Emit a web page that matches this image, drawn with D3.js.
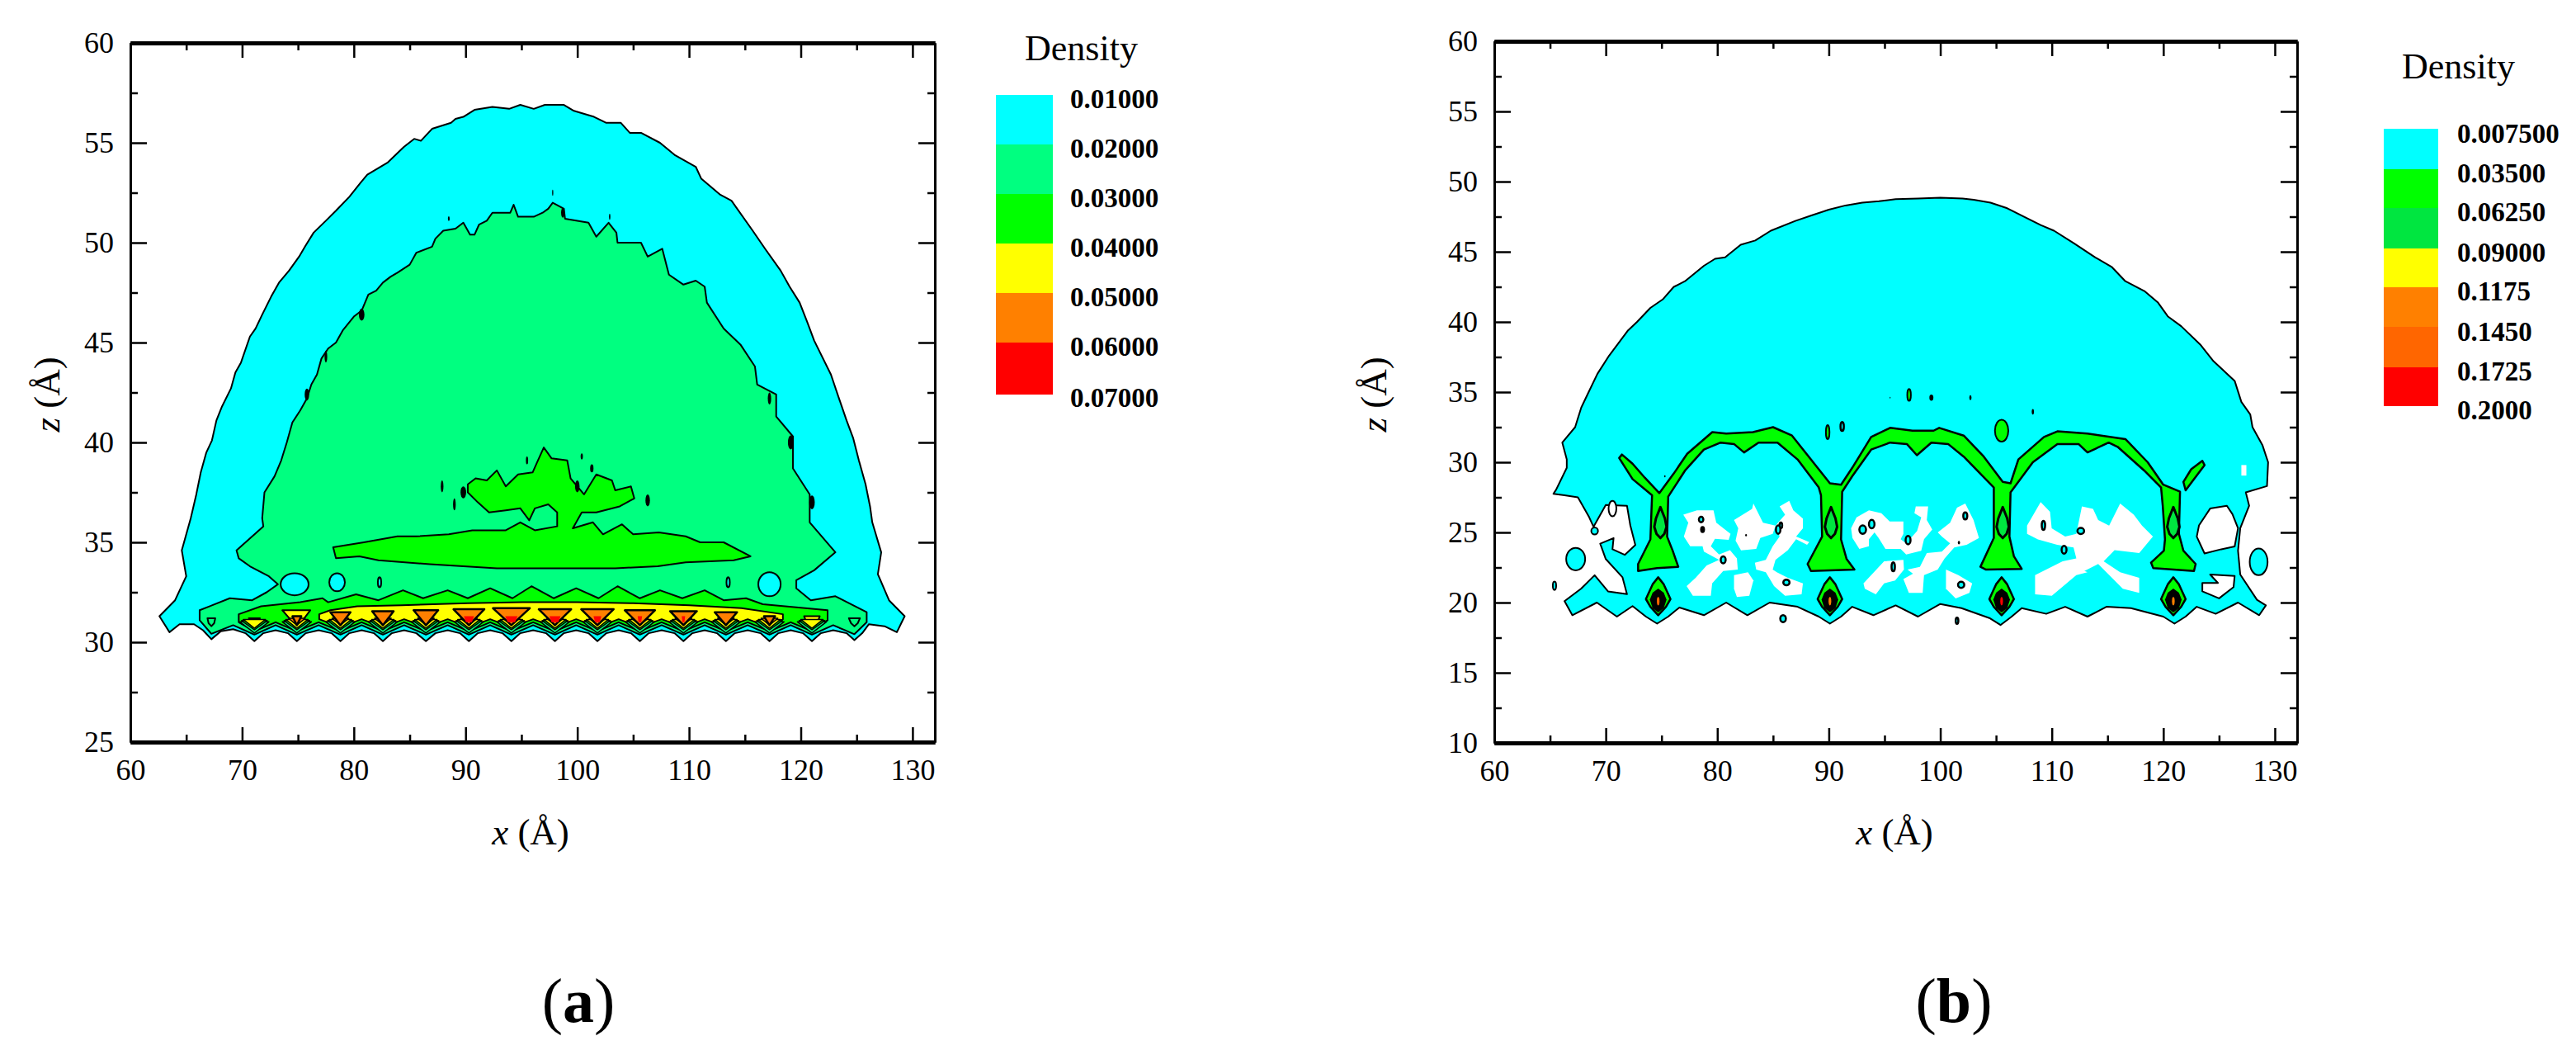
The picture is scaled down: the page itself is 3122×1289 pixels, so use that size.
<!DOCTYPE html>
<html>
<head>
<meta charset="utf-8">
<script src="https://cdn.jsdelivr.net/npm/d3@7"></script>
<style>
  html, body { margin: 0; background: #fff; }
  text { font-family: "Liberation Serif", "Times New Roman", serif; fill: #000; }
</style>
</head>
<body>
<svg width="3122" height="1289"></svg>
<script>
// tick values
var xMajor = [60, 70, 80, 90, 100, 110, 120, 130];
var xMinor = [65, 75, 85, 95, 105, 115, 125];
var zMajorA = [25, 30, 35, 40, 45, 50, 55, 60];
var zMinorA = [27.5, 32.5, 37.5, 42.5, 47.5, 52.5, 57.5];
var zMajorB = [10, 15, 20, 25, 30, 35, 40, 45, 50, 55, 60];
var zMinorB = [12.5, 17.5, 22.5, 27.5, 32.5, 37.5, 42.5, 47.5, 52.5, 57.5];

// legends
var legendA = ["0.01000", "0.02000", "0.03000", "0.04000", "0.05000", "0.06000", "0.07000"];
var legendColorsA = ["#00ffff", "#00ff80", "#00ff00", "#ffff00", "#ff8000", "#ff0000"];
var legendB = ["0.007500", "0.03500", "0.06250", "0.09000", "0.1175", "0.1450", "0.1725", "0.2000"];
var legendColorsB = ["#00ffff", "#00ff00", "#00e640", "#ffff00", "#ff8000", "#ff6600", "#ff0000"];

// panel a, contour outlines as [x, z]
var aCyan = [[62.6,31.3],[64,32.1],[65,33.3],[64.6,34.6],[65.4,36.2],[65.9,37.4],[66.3,38.5],[66.8,39.5],[67.3,40.1],[67.7,41.1],[68.2,41.8],[69,42.7],[69.4,43.5],[69.9,44],[70.7,45.3],[71.2,45.7],[71.8,46.4],[72.6,47.3],[73.3,48],[74.2,48.6],[75.1,49.3],[75.66,49.83],[76.4,50.5],[77.5,51.1],[78.4,51.6],[79.6,52.3],[80.6,53],[81.2,53.4],[83,54],[84.5,54.8],[85.4,55.2],[86,55.1],[87,55.7],[88.7,56],[89.1,56.2],[89.8,56.3],[90.8,56.65],[92.4,56.8],[93.9,56.7],[94.9,56.9],[96.1,56.7],[97.1,56.9],[98.8,56.9],[99.7,56.6],[101.5,56.3],[102.6,56],[103.9,56],[104.7,55.5],[105.7,55.5],[107.4,55],[108.7,54.4],[110.6,53.8],[111.1,53.2],[112.8,52.4],[113.8,52.1],[115.7,50.6],[116.8,49.7],[118.2,48.6],[119,47.8],[119.9,47],[120.6,46],[121.2,45.1],[122.7,43.4],[123.3,42.4],[124.1,41.1],[124.7,40.2],[125.2,39.1],[125.8,37.9],[126.2,36.8],[126.4,36],[127.2,34.5],[126.9,33.4],[127.9,32.1],[129.3,31.3],[128.6,30.5],[127.5,30.8],[126.1,30.9],[125.5,30.45],[124.8,30.1],[124.1,30.45],[122.9,30.6],[121.8,30.45],[121,30.05],[120.2,30.45],[119.1,30.6],[118,30.45],[117.2,30.05],[116.4,30.45],[115.25,30.6],[114.1,30.45],[113.3,30.05],[112.5,30.45],[111.4,30.6],[110.3,30.45],[109.5,30.05],[108.7,30.45],[107.55,30.6],[106.4,30.45],[105.6,30.05],[104.8,30.45],[103.7,30.6],[102.6,30.45],[101.8,30.05],[101,30.45],[99.9,30.6],[98.8,30.45],[98,30.05],[97.2,30.45],[96.05,30.6],[94.9,30.45],[94.1,30.05],[93.3,30.45],[92.2,30.6],[91.1,30.45],[90.3,30.05],[89.5,30.45],[88.4,30.6],[87.3,30.45],[86.45,30.05],[85.6,30.45],[84.5,30.6],[83.4,30.45],[82.6,30.05],[81.8,30.45],[80.7,30.6],[79.6,30.45],[78.8,30.05],[78,30.45],[76.85,30.6],[75.7,30.45],[74.9,30.05],[74.1,30.45],[73,30.6],[71.9,30.45],[71.1,30.05],[70.3,30.45],[69.2,30.65],[68.1,30.55],[67.25,30.15],[66.5,30.6],[65.7,30.9],[64.4,30.9],[63.5,30.5]];
var aLevel2 = [[66.2,31.1],[66.2,31.6],[68.9,32.2],[70.9,32.1],[72.2,32.5],[73.2,32.9],[72.4,33.3],[70.7,33.8],[69.7,34.2],[69.5,34.6],[71.9,35.8],[71.8,36.2],[72,37.5],[72.9,38.3],[73.5,39.1],[74,40],[74.5,41],[75.2,41.6],[75.8,42.2],[76.2,42.9],[76.7,43.4],[77.1,44.2],[77.7,44.7],[78.4,45],[79,45.6],[80,46.3],[80.7,46.6],[81.3,47.4],[82,47.6],[82.6,48],[83.3,48.3],[83.9,48.5],[85,48.9],[85.6,49.5],[87,49.8],[87.3,50.2],[88,50.6],[89.1,50.7],[89.8,51],[90.4,50.4],[90.8,50.4],[91.2,50.9],[91.9,51.1],[92.4,51.5],[94,51.5],[94.3,51.9],[94.7,51.3],[96.1,51.3],[96.9,51.5],[97.4,51.7],[97.8,52],[98.8,51.7],[98.9,51.2],[101,51],[101.7,50.3],[102.8,51],[103.5,50.5],[103.6,50],[105.7,50],[106.3,49.3],[107.6,49.7],[108.2,48.4],[109.5,47.9],[110.6,48.1],[111.4,47.8],[111.6,47],[113.1,45.7],[114.6,44.9],[115.9,43.8],[116.1,42.9],[117.8,42.4],[117.8,41.3],[119.3,40.3],[119.3,38.7],[120.8,37.4],[120.8,36],[123.1,34.5],[121.2,33.6],[119.6,33.1],[119.6,32.7],[120.9,32.1],[123.1,32.3],[125.9,31.5],[125.9,31],[124.8,30.4],[122.9,30.85],[121,30.38],[119.1,30.85],[117.2,30.38],[115.25,30.85],[113.3,30.38],[111.4,30.85],[109.5,30.38],[107.55,30.85],[105.6,30.38],[103.7,30.85],[101.8,30.38],[99.9,30.85],[98,30.38],[96.05,30.85],[94.1,30.38],[92.2,30.85],[90.3,30.38],[88.4,30.85],[86.45,30.38],[84.5,30.85],[82.6,30.38],[80.7,30.85],[78.8,30.38],[76.85,30.85],[74.9,30.38],[73,30.85],[71.1,30.38],[69.2,30.85],[67.25,30.42]];
var aFlame = [[78.15,34.75],[80.9,35],[83.9,35.3],[85.6,35.3],[88.5,35.4],[90.6,35.6],[93.6,35.6],[94.9,36],[96.2,35.6],[98.2,35.8],[98.2,36.5],[97.4,36.9],[96.2,36.7],[95.7,36.1],[94.9,36.7],[93.6,36.6],[92.1,36.5],[91.1,37],[90.2,37.5],[90.2,37.9],[90.9,38.2],[91.9,38.1],[92.8,38.6],[93.6,37.8],[94.7,38.4],[96,38.5],[96.4,39],[97,39.75],[97.7,39.2],[99.1,39.1],[99.4,38.2],[100.6,37.4],[101.7,38.4],[103.1,38.1],[103.4,37.6],[104.8,37.8],[105.1,37.2],[103.8,36.8],[101.7,36.5],[100.4,36.5],[99.6,35.7],[101.4,36],[102.3,35.4],[104,35.9],[105,35.4],[107.3,35.5],[109.7,35.3],[111,35],[113.1,35],[115.5,34.3],[114,34.1],[109.7,34],[107.2,33.8],[103.4,33.7],[96.2,33.7],[92.8,33.7],[86.8,33.9],[82.2,34.1],[80.5,34.3],[78.4,34.2]];
var aBand = [[69.7,31.4],[71.7,31.8],[75.2,32],[77.2,32.2],[77.7,32],[80.2,32.4],[82.2,32.1],[84.4,32.6],[86.2,32.2],[88.4,32.6],[90.2,32.2],[92.2,32.7],[94.2,32.2],[95.9,32.8],[97.9,32.2],[99.9,32.7],[101.9,32.2],[103.6,32.8],[105.6,32.2],[107.4,32.6],[109.4,32.2],[111.4,32.6],[113.1,32.1],[115.1,32.2],[116.6,31.9],[122.4,31.6],[122.4,31.1],[121,30.55],[119.1,31],[117.2,30.55],[115.25,31],[113.3,30.55],[111.4,31],[109.5,30.55],[107.55,31],[105.6,30.55],[103.7,31],[101.8,30.55],[99.9,31],[98,30.55],[96.05,31],[94.1,30.55],[92.2,31],[90.3,30.55],[88.4,31],[86.45,30.55],[84.5,31],[82.6,30.55],[80.7,31],[78.8,30.55],[76.85,31],[74.9,30.55],[73,31],[71.1,30.55],[69.7,31]];
var aYellow = [[76.9,31.4],[77.9,31.6],[80.3,31.8],[84.3,31.85],[90.2,31.95],[95.1,32],[100,32],[105,31.95],[110,31.85],[114.7,31.7],[118.4,31.4],[118.4,31.15],[117.2,30.75],[115.25,31.15],[113.3,30.75],[111.4,31.15],[109.5,30.75],[107.55,31.15],[105.6,30.75],[103.7,31.15],[101.8,30.75],[99.9,31.15],[98,30.75],[96.05,31.15],[94.1,30.75],[92.2,31.15],[90.3,30.75],[88.4,31.15],[86.45,30.75],[84.5,31.15],[82.6,30.75],[80.7,31.15],[78.8,30.75],[76.9,31.15]];
var aYellowBlobs = [[[70.6,31.2],[71.6,31.2],[71.4,30.95],[71.1,30.8],[70.8,30.95]],[[73.6,31.6],[76.1,31.6],[75.5,31.15],[74.9,30.8],[74.3,31.15]],[[120.3,31.3],[121.7,31.3],[121.5,31],[121,30.8],[120.5,31]]];
var aGreenBits = [[[66.9,31.2],[67.6,31.2],[67.5,30.95],[67.25,30.8],[67,30.95]],[[124.3,31.2],[125.3,31.2],[125.1,30.95],[124.8,30.8],[124.5,30.95]]];
// teeth along the wall, orange and red caps read per tooth
var aTeeth = [67.25, 71.1, 74.9, 78.8, 82.6, 86.45, 90.3, 94.1, 98, 101.8, 105.6, 109.5, 113.3, 117.2, 121, 124.8];
var aOrangeHalf = [0, 0, 0.4, 0.9, 0.96, 1.1, 1.38, 1.65, 1.45, 1.45, 1.35, 1.2, 1, 0.5, 0, 0];
var aOrangeTop = [0, 0, 31.3, 31.5, 31.55, 31.6, 31.65, 31.7, 31.65, 31.65, 31.6, 31.55, 31.5, 31.3, 0, 0];
var aRedHalf = [0, 0, 0, 0, 0, 0, 0.45, 0.55, 0.5, 0.35, 0.2, 0.15, 0, 0, 0, 0];
var aToothFills = ["#00ff80", "#00ff00", "#ffff00", "#ff8000"];
var aToothHalf = [1.3, 1.15, 1, 0.75];
var aToothTop = [31.02, 31.08, 31.14, 31.2];
var aToothTip = [30.46, 30.62, 30.7, 30.85];
// holes and loose bits, [x, z, rx, rz]
var aCyanHoles = [[74.7,32.9,1.25,0.55],[78.5,33,0.7,0.45],[82.3,33,0.15,0.25],[117.2,32.9,1,0.6],[113.5,33,0.15,0.25]];
var aSpecks = [[87.9,37.8,0.12,0.3],[89.8,37.5,0.25,0.3],[89,36.9,0.12,0.3],[95.5,39.1,0.1,0.2],[100.4,39.3,0.1,0.15],[101.3,38.7,0.15,0.2],[100,37.8,0.2,0.3],[121,37,0.25,0.35],[119.1,40,0.25,0.35],[117.2,42.2,0.15,0.3],[75.8,42.4,0.2,0.3],[77.5,44.3,0.12,0.3],[80.7,46.4,0.25,0.3],[97.8,52.5,0.05,0.15],[88.5,51.2,0.08,0.12],[98.7,51.5,0.15,0.25],[102.9,51.3,0.06,0.15],[106.3,37.1,0.2,0.3]];

// panel b
var bCyan = [[66.3,20.1],[67.8,21],[69,21.95],[70.2,20.8],[71.9,20.6],[71.5,21.8],[70,23.1],[69.5,24.2],[70.7,24.6],[70.6,23.8],[71.7,23.4],[72.65,24.1],[72.2,25.5],[71.9,26.9],[70,26.95],[68.9,25.4],[68.5,26.1],[67.5,27.5],[66.3,27.65],[65.3,27.75],[65.55,28.05],[66.5,29.6],[66.5,30.2],[66.1,31.4],[67.25,32.5],[67.8,33.9],[68.4,34.9],[69.25,36.3],[70.3,37.6],[72,39.4],[72.8,40],[74,41],[75.1,41.6],[76.1,42.5],[77.1,42.9],[78.8,44],[79.8,44.5],[80.7,44.6],[82.1,45.5],[83.4,45.8],[84.8,46.5],[87,47.2],[88.5,47.6],[90,48],[91.5,48.3],[93,48.5],[94.5,48.6],[96,48.75],[98,48.8],[100,48.85],[102,48.8],[103,48.7],[104.5,48.5],[106,48.1],[107,47.7],[108,47.3],[109,46.9],[110.2,46.5],[112,45.6],[113.9,44.6],[115.4,43.9],[116.6,42.9],[118.3,42.2],[119.5,41.4],[120.4,40.4],[121.6,39.7],[123.3,38.4],[124.5,37.2],[126.4,35.8],[127,34.3],[127.8,33.4],[128,32.5],[128.9,31.2],[129.4,30],[129.3,28.3],[127.4,27.85],[127.7,26.9],[126.9,25.3],[126.7,23.7],[126.9,22],[128.4,20.2],[129.2,19.8],[128.6,19.1],[126.7,20],[124.7,19.2],[123,19.7],[122,19],[121,18.5],[120,19],[117.1,19.6],[114.9,19.7],[113.2,19],[111.2,19.7],[109.5,19.2],[107.3,19.6],[106.4,19],[105.4,18.4],[104.4,18.9],[101.9,19.6],[100,19.9],[98,19],[96,19.8],[94,19.1],[92.1,19.7],[91.1,19],[90.1,18.5],[89.1,19],[87.2,19.7],[84.7,20],[82.7,19.1],[80.8,20],[78.8,19.1],[76.6,19.65],[75.6,19],[74.6,18.5],[73.6,19],[72.4,19.75],[71,19],[69.2,20],[67,19.1]];
var bArches = [[71.45,30.55],[72.4,29.9],[73.5,28.9],[74.8,27.8],[76.1,29.2],[77.3,30.6],[79.55,32.15],[80.8,32.05],[83.2,32.15],[85,32.5],[86.7,31.9],[88.1,30.5],[90.1,28.5],[91.1,28.4],[92.1,29.6],[93.8,31.8],[95.5,32.45],[97.5,32.25],[99.4,32.25],[99.9,32.45],[102.1,31.9],[103.9,30.4],[105.6,28.6],[106.3,28.5],[107,30.2],[109.3,31.8],[110.5,32.2],[113.2,32.05],[116.6,31.65],[118.6,30],[120,28.4],[121.5,27.9],[121.4,24.9],[121.8,23.7],[122.9,22.75],[122.75,22.25],[119.1,22.45],[118.9,22.85],[120.05,23.7],[120.15,24.5],[119.95,26.9],[119.8,28.2],[118.3,29.4],[115.9,31.1],[115.1,31.4],[113.2,30.7],[112.4,31.3],[110.5,31.3],[108.3,30],[106.3,27.85],[106.2,24.7],[106.6,23.3],[107.3,22.4],[104.1,22.35],[103.6,22.55],[104.8,24.6],[104.8,27.65],[104.8,28.2],[102.1,30.4],[100.7,31.3],[99.2,31.4],[97.9,30.5],[97,31.3],[95.5,31.4],[93.8,30.9],[92.1,29],[91.2,27.9],[91.1,24.5],[91.6,23.1],[92.3,22.35],[88.4,22.25],[88.1,22.75],[89.4,24.7],[89.3,27.65],[89.1,28.2],[87.2,30.2],[85.4,31.4],[83.7,31.4],[82.4,30.7],[81.5,31.3],[80.3,31.4],[78.8,30.9],[77.1,29.4],[75.6,27.55],[75.5,24.7],[76,23.7],[76.5,22.55],[74.6,22.45],[72.9,22.25],[72.9,22.75],[74,24.5],[74.15,27.65],[72.4,28.8],[71.2,30.3]];
var bStub = [[123.5,30.1],[123.7,29.8],[122.75,28.8],[122,28],[121.8,28.6],[122.5,29.5]];
var bWhite = [
  [[76.95,26.27],[78.18,26.57],[79.66,26.57],[79.91,25.69],[81.19,24.9],[81.02,24.47],[79.79,24.55],[79.42,24.02],[80.16,23.43],[81.14,23.73],[81.76,23.14],[81.84,22.35],[80.53,22.25],[79.54,21.37],[79.42,20.49],[77.81,20.49],[77.25,21.18],[78.06,21.76],[79.05,22.65],[80.16,23.04],[78.8,23.63],[78.68,24.02],[77.57,24.02],[77,24.71],[77.4,25.69]],
  [[81.5,25.88],[83.12,26.67],[83.24,27.06],[83.61,26.47],[84.1,25.69],[85.22,25.49],[84.97,24.9],[83.86,24.61],[83.49,23.82],[82.13,23.72],[81.64,24.41],[81.88,25.3]],
  [[85.59,26.86],[86.45,27.25],[86.82,26.57],[87.68,25.98],[87.68,25.3],[87.07,24.71],[88.25,24.31],[88.05,24.12],[87.07,24.51],[86.33,23.73],[85.22,23.04],[84.97,22.35],[85.34,22.16],[86.33,21.76],[87.68,21.37],[87.56,20.59],[86.08,20.49],[85.09,21.18],[84.35,22.16],[83.49,22.35],[83.37,22.84],[84.35,23.04],[84.97,24.02],[85.59,24.71],[85.22,25.49],[86.08,26.27]],
  [[81.5,21.96],[82.75,22.16],[83.24,21.57],[82.87,20.49],[81.76,20.39],[81.5,20.98]],
  [[92,25.3],[92.49,26.08],[93.6,26.57],[94.71,26.37],[95.46,25.78],[96.69,25.78],[96.69,24.9],[96.44,24.51],[96.94,24.22],[97.92,25.1],[98.29,26.08],[97.68,26.37],[97.8,26.86],[98.91,26.86],[98.79,25.88],[99.28,25.2],[98.54,24.51],[98.29,23.69],[96.94,23.43],[96.44,23.82],[95.08,23.82],[94.47,24.61],[94.1,25],[93.6,24.51],[93.6,24.02],[92.74,23.82],[92.12,24.61]],
  [[99.77,25],[100.88,25.69],[101.5,26.77],[102.24,27.06],[102.98,25.88],[103.47,24.61],[102.36,24.12],[101.25,23.92],[100.39,23.14],[99.77,22.35],[98.54,21.96],[98.42,20.69],[97.18,20.69],[96.69,21.67],[97.55,22.06],[97.06,22.35],[98.17,22.55],[98.79,23.53],[100.14,23.63],[100.88,24.22],[100.14,24.71]],
  [[93.11,21.37],[94.96,22.94],[96.69,23.04],[96.74,22.35],[95.95,21.57],[94.96,21.37],[94.22,20.59],[93.23,20.98]],
  [[100.51,22.35],[101.62,21.96],[102.86,21.37],[102.61,20.69],[101.38,20.29],[100.51,20.98]],
  [[107.78,25.49],[109,27.16],[109.84,26.47],[109.99,25.3],[111.2,24.7],[112.2,24.9],[112.7,26.86],[113.7,26.67],[114.16,25.88],[115.14,25.49],[116.13,27.06],[117.35,26.27],[118.09,25.49],[119.07,24.71],[117.84,23.53],[115.63,23.73],[114.65,22.94],[116.13,22.16],[117.84,21.76],[117.84,20.69],[116.37,20.98],[114.16,22.75],[112.7,22.16],[111.2,22.45],[110.97,22.94],[112.2,23.14],[111.95,23.92],[110.48,24.12],[108.76,24.5],[107.78,24.9]],
  [[108.5,21.96],[110.97,22.94],[113.2,22.16],[112.2,21.96],[110,20.49],[108.5,20.59]]
];
var bRect = [[127,29.8],[127.45,29.8],[127.45,29.05],[127,29.05]];
var bWhiteOutlined = [
  [[123.2,25.5],[124.2,26.7],[125.7,26.9],[126.2,26.3],[126.7,25.3],[126.4,24],[125.2,23.8],[123.7,23.5],[123,24.7]],
  [[124.2,22],[126.4,21.9],[126.3,21.1],[125,20.3],[123.5,20.8],[123.5,21.4],[124.9,21.4]]
];
var bCyanIslands = [[128.55,22.9,0.8,0.95],[67.3,23.1,0.85,0.8],[65.4,21.2,0.15,0.3],[69,25.1,0.3,0.25]];
var bWhiteRing = [[70.6,26.7,0.35,0.55]];
var bSpecks = [[78.55,25.92,0.2,0.2],[85.7,25.5,0.12,0.2],[85.46,25.2,0.2,0.3],[80.53,23.04,0.22,0.25],[86.2,21.43,0.28,0.2],[93.04,25.2,0.3,0.3],[93.85,25.59,0.25,0.3],[97.11,24.45,0.22,0.3],[95.78,22.55,0.15,0.32],[102.24,26.18,0.18,0.25],[101.87,21.27,0.28,0.22],[109.25,25.5,0.15,0.32],[112.6,25.1,0.3,0.22],[111.1,23.76,0.22,0.28],[85.9,18.86,0.25,0.25],[101.5,18.7,0.12,0.22],[91.2,32.55,0.15,0.32],[104.3,22.85,0.15,0.3]];
var bBlackDots = [[78.68,25.2,0.22,0.25],[82.58,24.8,0.08,0.08],[101.67,24.27,0.1,0.12],[95.5,34.6,0.04,0.06],[102.7,34.6,0.1,0.18],[108.3,33.6,0.1,0.2],[75.3,29,0.06,0.08],[99.2,34.6,0.18,0.22]];
var bGreenBits = [[105.5,32.25,0.6,0.78],[89.9,32.15,0.16,0.5],[97.2,34.8,0.16,0.42]];
var bCentres = [74.7, 90.1, 105.5, 120.9];
var bCoreColors = ["#ff6600", "#ff8000", "#ff0000", "#ff8000"];
var bDiamond = [[0,21.8],[0.5,21.3],[0.9,20.6],[1.1,20.25],[0.7,19.7],[0,19.1],[-0.7,19.7],[-1.1,20.25],[-0.9,20.6],[-0.5,21.3]];
var bDiamondBlack = [[0,21],[0.5,20.7],[0.75,20.2],[0.5,19.6],[0,19.3],[-0.5,19.6],[-0.75,20.2],[-0.5,20.7]];
var bTrunkCentres = [74.9, 90.2, 105.6, 120.9];
var bTrunkInner = [[0,26.8],[0.4,26],[0.55,25.4],[0.35,24.9],[0,24.6],[-0.35,24.9],[-0.55,25.4],[-0.4,26]];

var svg = d3.select("svg");

function drawPanel(box, xDomain, zDomain, zMajor, zMinor) {
  var x = d3.scaleLinear().domain(xDomain).range([box.left, box.right]);
  var z = d3.scaleLinear().domain(zDomain).range([box.bottom, box.top]);
  var g = svg.append("g");
  g.x = x;
  g.z = z;
  g.marks = g.append("g");
  g.axes = g.append("g");

  function addAxes(axis, sel, labelled, size, ticks, domainWidth) {
    var a = axis.tickValues(ticks).tickSize(size).tickSizeOuter(0);
    if (!labelled) a.tickFormat("");
    else a.tickFormat(d3.format("d")).tickPadding(20);
    var n = g.axes.append("g").attr("transform", sel).call(a);
    n.attr("font-size", 36).attr("font-family", '"Liberation Serif", serif');
    n.selectAll("line").attr("stroke", "#000").attr("stroke-width", 2.5);
    n.select(".domain").attr("stroke", "#000").attr("stroke-width", domainWidth);
    return n;
  }
  addAxes(d3.axisBottom(x), `translate(0,${box.bottom})`, true, -18, xMajor, 5);
  addAxes(d3.axisBottom(x), `translate(0,${box.bottom})`, false, -9, xMinor, 5);
  addAxes(d3.axisTop(x), `translate(0,${box.top})`, false, -18, xMajor, 5);
  addAxes(d3.axisTop(x), `translate(0,${box.top})`, false, -9, xMinor, 5);
  addAxes(d3.axisLeft(z), `translate(${box.left},0)`, true, -20, zMajor, 3);
  addAxes(d3.axisLeft(z), `translate(${box.left},0)`, false, -9, zMinor, 3);
  addAxes(d3.axisRight(z), `translate(${box.right},0)`, false, -20, zMajor, 3);
  addAxes(d3.axisRight(z), `translate(${box.right},0)`, false, -9, zMinor, 3);

  var title = g.axes.append("text")
    .attr("x", box.xTitle).attr("y", 1023)
    .attr("text-anchor", "middle").attr("font-size", 45);
  title.append("tspan").attr("font-style", "italic").text("x");
  title.append("tspan").text(" (\u00c5)");

  var ztitle = g.axes.append("text")
    .attr("transform", `translate(${box.zTitle},${box.zTitleY}) rotate(-90)`)
    .attr("text-anchor", "middle").attr("font-size", 45);
  ztitle.append("tspan").attr("font-style", "italic").text("z");
  ztitle.append("tspan").text(" (\u00c5)");

  var tag = g.axes.append("text")
    .attr("x", box.tagX).attr("y", 1238)
    .attr("text-anchor", "middle").attr("font-size", 76);
  tag.append("tspan").text("(");
  tag.append("tspan").attr("font-weight", "bold").text(box.tag);
  tag.append("tspan").text(")");
  return g;
}

// polygons of [x, z] on the panel scales
function polys(g, data, fill, stroke, width) {
  var line = d3.line().x(d => g.x(d[0])).y(d => g.z(d[1])).curve(d3.curveLinearClosed);
  g.marks.append("g").selectAll("path")
    .data(data)
    .join("path")
      .attr("d", line)
      .attr("fill", fill)
      .attr("stroke", stroke || "none")
      .attr("stroke-width", width || 2)
      .attr("stroke-linejoin", "round");
}

// loose bits as [x, z, rx, rz]
function ellipses(g, data, fill, stroke, width) {
  g.marks.append("g").selectAll("ellipse")
    .data(data)
    .join("ellipse")
      .attr("cx", d => g.x(d[0]))
      .attr("cy", d => g.z(d[1]))
      .attr("rx", d => g.x(d[0] + d[2]) - g.x(d[0]))
      .attr("ry", d => g.z(d[1]) - g.z(d[1] + d[3]))
      .attr("fill", fill)
      .attr("stroke", stroke || "none")
      .attr("stroke-width", width || 2);
}

function drawLegend(title, titleX, titleY, rectX, rectW, edges, labelX, labelY, labels, colors) {
  var g = svg.append("g");
  g.append("text").attr("x", titleX).attr("y", titleY).attr("font-size", 44).text(title);
  g.selectAll("rect").data(colors).join("rect")
    .attr("x", rectX).attr("width", rectW)
    .attr("y", (d, i) => edges[i])
    .attr("height", (d, i) => edges[i + 1] - edges[i])
    .attr("fill", d => d);
  g.selectAll(".lab").data(labels).join("text")
    .attr("class", "lab")
    .attr("x", labelX)
    .attr("y", (d, i) => labelY[i])
    .attr("dy", "0.34em")
    .attr("font-size", 33)
    .attr("font-weight", "bold")
    .text(d => d);
}

// (a)
var pa = drawPanel({ left: 158, right: 1133, top: 52, bottom: 899, xTitle: 643, zTitle: 72, zTitleY: 478, tagX: 701, tag: "a" },
  [60, 132], [25, 60], zMajorA, zMinorA);
polys(pa, [aCyan], "#00ffff", "#000");
polys(pa, [aLevel2], "#00ff80", "#000");
ellipses(pa, aCyanHoles, "#00ffff", "#000");
polys(pa, [aFlame, aBand], "#00ff00", "#000");
polys(pa, aGreenBits, "#00ff80", "#000");
polys(pa, [aYellow], "#ffff00", "#000");
polys(pa, aYellowBlobs, "#ffff00", "#000");
ellipses(pa, aSpecks, "#000");

// nested contour lines packed into each tooth
aToothFills.forEach((fill, li) => {
  var teeth = aTeeth.filter((t, i) => i > 0 && i < 15 && (li < 3 || aOrangeHalf[i] > 0));
  polys(pa, teeth.map(t => [[t - aToothHalf[li], aToothTop[li]], [t + aToothHalf[li], aToothTop[li]], [t, aToothTip[li]]]),
    fill, "#000", 1.5);
});
polys(pa, aTeeth.map((t, i) => [[t - aOrangeHalf[i], aOrangeTop[i]], [t + aOrangeHalf[i], aOrangeTop[i]], [t, 30.85]])
  .filter((d, i) => aOrangeHalf[i] > 0), "#ff8000", "#000", 2.5);
polys(pa, aTeeth.map((t, i) => [[t - aRedHalf[i], 31.3], [t + aRedHalf[i], 31.3], [t + aRedHalf[i] * 0.6, 31], [t - aRedHalf[i] * 0.6, 31]])
  .filter((d, i) => aRedHalf[i] > 0), "#ff0000");

drawLegend("Density", 1242, 73, 1207, 69, [115, 175, 235, 295, 355, 415, 478], 1297,
  [120, 180, 240, 300, 360, 420, 482], legendA, legendColorsA);

// (b)
var pb = drawPanel({ left: 1811, right: 2784, top: 50, bottom: 900, xTitle: 2296, zTitle: 1680, zTitleY: 478, tagX: 2368, tag: "b" },
  [60, 132], [10, 60], zMajorB, zMinorB);
polys(pb, [bCyan], "#00ffff", "#000");
ellipses(pb, bCyanIslands, "#00ffff", "#000");
polys(pb, bWhite, "#fff");
polys(pb, [bRect], "#fff");
polys(pb, bWhiteOutlined, "#fff", "#000");
ellipses(pb, bWhiteRing, "#fff", "#000");
ellipses(pb, bSpecks, "#00ffff", "#000", 2.5);
ellipses(pb, bBlackDots, "#000");
ellipses(pb, bGreenBits, "#00ff00", "#000");
polys(pb, [bArches, bStub], "#00ff00", "#000", 2.5);
polys(pb, bTrunkCentres.map(c => bTrunkInner.map(d => [c + d[0], d[1]])), "#00e640", "#000", 3);
polys(pb, bCentres.map(c => bDiamond.map(d => [c + d[0], d[1]])), "#00ff00", "#000", 2.5);
polys(pb, bCentres.map(c => bDiamondBlack.map(d => [c + d[0], d[1]])), "#000");
bCentres.forEach((c, i) => ellipses(pb, [[c, 20.1, 0.12, 0.3]], bCoreColors[i]));

drawLegend("Density", 2911, 95, 2889, 66, [156, 205, 252, 301, 348, 396, 445, 492], 2978,
  [162, 210, 257, 306, 353, 402, 450, 497], legendB, legendColorsB);
</script>
</body>
</html>
